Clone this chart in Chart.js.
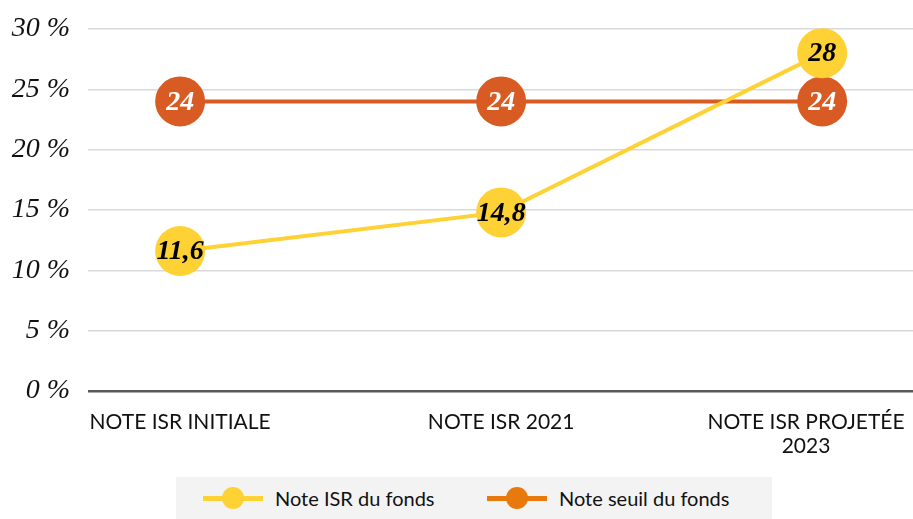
<!DOCTYPE html>
<html lang="fr">
<head>
<meta charset="utf-8">
<script src="https://cdn.jsdelivr.net/npm/chart.js@4"></script>
<style>
  html, body { margin: 0; padding: 0; background: #fff; }
  #wrap { position: relative; width: 913px; height: 519px; }
  #legende {
    position: absolute; left: 176px; top: 477px; width: 596px; height: 42px;
    background: #f3f3f3; font-family: Lato, sans-serif; font-size: 20px; color: #111;
  }
  .item { display: flex; align-items: center; position: absolute; top: 0; height: 42px; }
  .marque { position: relative; width: 60px; height: 22px; margin-right: 12px; }
  .marque .trait { position: absolute; left: 0; right: 0; top: 9px; height: 5px; }
  .marque .rond { position: absolute; left: 19px; top: 0; width: 22px; height: 22px; border-radius: 50%; }
</style>
</head>
<body>
<div id="wrap">
  <canvas id="graphique" width="913" height="519"></canvas>
  <div id="legende"></div>
</div>
<script>
// Catégories et notes
const categories = ['NOTE ISR INITIALE', 'NOTE ISR 2021', ['NOTE ISR PROJETÉE', '2023']];
const noteFonds = [11.6, 14.8, 28];
const noteSeuil = [24, 24, 24];
const yTicks = [0, 5, 10, 15, 20, 25, 30];

const JAUNE = '#fed134';
const ORANGE = '#d95b24';
const ORANGE_LEGENDE = '#e8790c';

// Formatage à la française : virgule décimale
const formatNote = (v) => String(v).replace('.', ',');

// Étiquettes dans les pastilles
const etiquettesPlugin = {
  id: 'etiquettes',
  afterDatasetsDraw(chart) {
    const ctx = chart.ctx;
    ctx.save();
    ctx.font = 'italic bold 28px "Liberation Serif", serif';
    ctx.textAlign = 'center';
    ctx.textBaseline = 'middle';
    chart.data.datasets.forEach((ds, i) => {
      chart.getDatasetMeta(i).data.forEach((pt, j) => {
        ctx.fillStyle = ds.labelColor;
        ctx.fillText(formatNote(ds.data[j].y), pt.x, pt.y + 1);
      });
    });
    ctx.restore();
  }
};

const toPoints = (arr) => arr.map((v, i) => ({ x: i, y: v }));

// Le dernier libellé touche le bord droit : on le décale un peu vers la gauche
const decaleGauche = (txt) => txt + '\u00a0'.repeat(6);

new Chart(document.getElementById('graphique'), {
  type: 'line',
  data: {
    datasets: [
      {
        label: 'Note ISR du fonds',
        data: toPoints(noteFonds),
        borderColor: JAUNE,
        backgroundColor: JAUNE,
        borderWidth: 4,
        pointRadius: 25,
        pointHoverRadius: 25,
        pointBorderWidth: 0,
        labelColor: '#000',
        clip: false
      },
      {
        label: 'Note seuil du fonds',
        data: toPoints(noteSeuil),
        borderColor: ORANGE,
        backgroundColor: ORANGE,
        borderWidth: 4,
        pointRadius: 25,
        pointHoverRadius: 25,
        pointBorderWidth: 0,
        labelColor: '#fff',
        clip: false
      }
    ]
  },
  options: {
    responsive: false,
    animation: false,
    layout: { autoPadding: false, padding: { top: 29, right: 0, left: 0, bottom: 0 } },
    plugins: { legend: { display: false }, tooltip: { enabled: false } },
    scales: {
      x: {
        type: 'linear',
        min: -0.287,
        max: 2.283,
        grid: { display: false },
        border: { display: false },
        afterFit: (scale) => {
          scale.height = 128;
          scale.paddingLeft = 0;
          scale.paddingRight = 0;
        },
        ticks: {
          stepSize: 1,
          includeBounds: false,
          autoSkip: false,
          maxRotation: 0,
          padding: 11,
          color: '#111',
          font: { family: 'Lato', size: 21, lineHeight: 1.15 },
          callback: (v) => {
            if (!Number.isInteger(v)) return '';
            const lab = categories[v];
            return v === categories.length - 1 ? [].concat(lab).map(decaleGauche) : lab;
          }
        }
      },
      y: {
        min: 0,
        max: 30,
        afterFit: (scale) => {
          scale.width = 88;
          scale.paddingTop = 0;
          scale.paddingBottom = 0;
        },
        afterBuildTicks: (scale) => { scale.ticks = yTicks.map(v => ({ value: v })); },
        border: { display: false },
        grid: {
          drawTicks: false,
          color: (c) => c.tick && c.tick.value === 0 ? '#595959' : '#d9d9d9',
          lineWidth: (c) => c.tick && c.tick.value === 0 ? 2.5 : 1.5
        },
        ticks: {
          padding: 18,
          color: '#111',
          font: { family: 'Liberation Serif', size: 28, style: 'italic' },
          callback: (v) => v + ' %'
        }
      }
    }
  },
  plugins: [etiquettesPlugin]
});

// Légende sous le graphique
const legende = document.getElementById('legende');
[
  { texte: 'Note ISR du fonds', couleur: JAUNE, left: 27 },
  { texte: 'Note seuil du fonds', couleur: ORANGE_LEGENDE, left: 311 }
].forEach(({ texte, couleur, left }) => {
  const item = document.createElement('div');
  item.className = 'item';
  item.style.left = left + 'px';
  item.innerHTML = `<div class="marque"><div class="trait" style="background:${couleur}"></div>` +
    `<div class="rond" style="background:${couleur}"></div></div><span>${texte}</span>`;
  legende.appendChild(item);
});
</script>
</body>
</html>
